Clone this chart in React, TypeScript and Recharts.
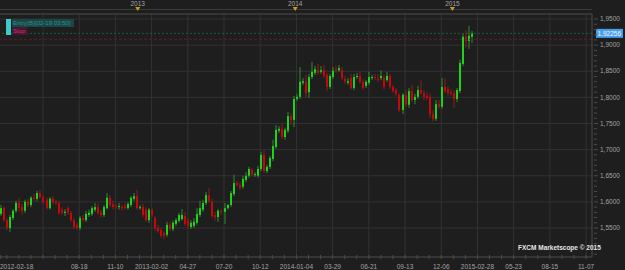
import React from "react";
import {
  ComposedChart,
  Bar,
  XAxis,
  YAxis,
  CartesianGrid,
  ReferenceLine,
} from "recharts";

// weekly candles, week 0 = 2012-02-18
const opens = [
  1.577, 1.588, 1.565, 1.55, 1.569, 1.583, 1.598, 1.59, 1.583, 1.6,
  1.594, 1.608, 1.606, 1.617, 1.609, 1.604, 1.588, 1.606, 1.6, 1.598,
  1.585, 1.579, 1.588, 1.579, 1.565, 1.556, 1.55, 1.569, 1.565, 1.575,
  1.577, 1.585, 1.59, 1.581, 1.575, 1.588, 1.608, 1.596, 1.592, 1.59,
  1.59, 1.592, 1.588, 1.594, 1.606, 1.611, 1.588, 1.59, 1.585, 1.565,
  1.585, 1.569, 1.55, 1.546, 1.541, 1.537, 1.556, 1.548, 1.558, 1.564,
  1.567, 1.573, 1.564, 1.552, 1.554, 1.56, 1.575, 1.585, 1.598, 1.613,
  1.6, 1.575, 1.571, 1.583, 1.581, 1.588, 1.594, 1.615, 1.636, 1.632,
  1.629, 1.642, 1.65, 1.661, 1.652, 1.65, 1.663, 1.69, 1.659, 1.667,
  1.682, 1.705, 1.736, 1.74, 1.724, 1.736, 1.764, 1.757, 1.797, 1.801,
  1.828, 1.83, 1.81, 1.839, 1.847, 1.852, 1.849, 1.852, 1.843, 1.82,
  1.839, 1.854, 1.852, 1.852, 1.835, 1.828, 1.837, 1.818, 1.839, 1.841,
  1.83, 1.822, 1.828, 1.837, 1.839, 1.835, 1.837, 1.837, 1.833, 1.841,
  1.82, 1.814, 1.805, 1.776, 1.805, 1.786, 1.812, 1.795, 1.801, 1.814,
  1.808, 1.803, 1.801, 1.768, 1.759, 1.787, 1.782, 1.82, 1.816, 1.81,
  1.808, 1.797, 1.812, 1.864, 1.916, 1.908, 1.916,
];
const highs = [
  1.594, 1.592, 1.569, 1.575, 1.586, 1.602, 1.608, 1.596, 1.604, 1.606,
  1.611, 1.615, 1.621, 1.623, 1.613, 1.608, 1.609, 1.611, 1.604, 1.602,
  1.59, 1.586, 1.592, 1.583, 1.569, 1.56, 1.573, 1.575, 1.583, 1.585,
  1.592, 1.598, 1.596, 1.585, 1.594, 1.617, 1.613, 1.602, 1.596, 1.598,
  1.594, 1.598, 1.6, 1.611, 1.617, 1.623, 1.594, 1.596, 1.59, 1.588,
  1.588, 1.573, 1.556, 1.55, 1.544, 1.562, 1.562, 1.564, 1.569, 1.579,
  1.586, 1.581, 1.569, 1.565, 1.569, 1.588, 1.602, 1.604, 1.619, 1.627,
  1.606, 1.581, 1.586, 1.586, 1.598, 1.596, 1.621, 1.652, 1.64, 1.638,
  1.65, 1.657, 1.667, 1.665, 1.657, 1.669, 1.696, 1.699, 1.671, 1.688,
  1.719, 1.747, 1.745, 1.749, 1.742, 1.772, 1.77, 1.803, 1.807, 1.858,
  1.837, 1.843, 1.845, 1.868, 1.86, 1.864, 1.86, 1.862, 1.847, 1.845,
  1.858, 1.86, 1.862, 1.858, 1.841, 1.837, 1.845, 1.845, 1.847, 1.849,
  1.835, 1.833, 1.849, 1.843, 1.845, 1.845, 1.852, 1.843, 1.849, 1.845,
  1.824, 1.818, 1.808, 1.808, 1.814, 1.818, 1.824, 1.807, 1.822, 1.833,
  1.814, 1.81, 1.807, 1.776, 1.795, 1.795, 1.837, 1.837, 1.822, 1.816,
  1.814, 1.818, 1.872, 1.923, 1.929, 1.937, 1.927,
];
const lows = [
  1.573, 1.562, 1.546, 1.542, 1.565, 1.579, 1.581, 1.575, 1.579, 1.59,
  1.59, 1.602, 1.602, 1.606, 1.596, 1.585, 1.585, 1.596, 1.594, 1.575,
  1.575, 1.573, 1.575, 1.562, 1.548, 1.546, 1.546, 1.562, 1.562, 1.571,
  1.573, 1.581, 1.575, 1.569, 1.571, 1.585, 1.59, 1.586, 1.586, 1.585,
  1.583, 1.585, 1.585, 1.59, 1.602, 1.585, 1.585, 1.571, 1.562, 1.56,
  1.571, 1.544, 1.541, 1.531, 1.529, 1.533, 1.544, 1.544, 1.554, 1.56,
  1.564, 1.554, 1.548, 1.548, 1.55, 1.556, 1.571, 1.581, 1.594, 1.598,
  1.569, 1.564, 1.562, 1.575, 1.558, 1.585, 1.59, 1.611, 1.63, 1.623,
  1.625, 1.638, 1.646, 1.648, 1.648, 1.646, 1.659, 1.655, 1.655, 1.663,
  1.678, 1.701, 1.732, 1.72, 1.719, 1.732, 1.747, 1.743, 1.793, 1.797,
  1.824, 1.799, 1.799, 1.835, 1.843, 1.843, 1.845, 1.837, 1.812, 1.816,
  1.835, 1.847, 1.849, 1.833, 1.826, 1.824, 1.814, 1.814, 1.835, 1.826,
  1.814, 1.818, 1.824, 1.833, 1.833, 1.83, 1.833, 1.816, 1.83, 1.816,
  1.808, 1.803, 1.772, 1.768, 1.782, 1.78, 1.791, 1.787, 1.797, 1.805,
  1.795, 1.795, 1.761, 1.753, 1.755, 1.778, 1.778, 1.808, 1.803, 1.803,
  1.78, 1.791, 1.808, 1.86, 1.895, 1.893, 1.904,
];
const closes = [
  1.588, 1.565, 1.55, 1.571, 1.583, 1.598, 1.588, 1.583, 1.6, 1.594,
  1.608, 1.606, 1.617, 1.609, 1.6, 1.588, 1.606, 1.6, 1.598, 1.579,
  1.579, 1.581, 1.579, 1.565, 1.552, 1.55, 1.569, 1.565, 1.577, 1.579,
  1.588, 1.59, 1.579, 1.575, 1.59, 1.608, 1.594, 1.59, 1.59, 1.592,
  1.588, 1.588, 1.596, 1.608, 1.611, 1.588, 1.59, 1.575, 1.565, 1.585,
  1.575, 1.55, 1.544, 1.535, 1.535, 1.556, 1.548, 1.56, 1.565, 1.575,
  1.575, 1.558, 1.554, 1.56, 1.562, 1.577, 1.588, 1.598, 1.613, 1.602,
  1.573, 1.571, 1.583, 1.581, 1.588, 1.594, 1.617, 1.636, 1.632, 1.627,
  1.644, 1.65, 1.663, 1.652, 1.653, 1.663, 1.69, 1.659, 1.667, 1.684,
  1.707, 1.738, 1.74, 1.724, 1.738, 1.764, 1.757, 1.797, 1.801, 1.83,
  1.831, 1.808, 1.839, 1.849, 1.854, 1.847, 1.852, 1.841, 1.82, 1.841,
  1.851, 1.851, 1.856, 1.837, 1.83, 1.831, 1.818, 1.839, 1.841, 1.83,
  1.818, 1.83, 1.839, 1.839, 1.837, 1.833, 1.841, 1.82, 1.841, 1.82,
  1.812, 1.807, 1.776, 1.805, 1.786, 1.812, 1.795, 1.801, 1.814, 1.808,
  1.801, 1.799, 1.768, 1.759, 1.787, 1.782, 1.82, 1.812, 1.808, 1.807,
  1.797, 1.814, 1.866, 1.916, 1.908, 1.918, 1.92256,
];

const lastPrice = 1.92256;
const stopPrice = 1.9112;

// price axis
const priceLabels = [1.55, 1.6, 1.65, 1.7, 1.75, 1.8, 1.85, 1.9, 1.95];
const priceMinor = [
  1.5, 1.51, 1.52, 1.53, 1.54, 1.55, 1.56, 1.57, 1.58, 1.59,
  1.6, 1.61, 1.62, 1.63, 1.64, 1.65, 1.66, 1.67, 1.68, 1.69,
  1.7, 1.71, 1.72, 1.73, 1.74, 1.75, 1.76, 1.77, 1.78, 1.79,
  1.8, 1.81, 1.82, 1.83, 1.84, 1.85, 1.86, 1.87, 1.88, 1.89,
  1.9, 1.91, 1.92, 1.93, 1.94, 1.95,
];

// date axis (week index -> label)
const dateTicks = [0, 14, 26, 38, 50, 62, 74, 86, 98, 110, 122, 134, 146, 158, 170, 182, 194];
const dateLabels = [
  "2012-02-18", "", "08-18", "11-10", "2013-02-02", "04-27", "07-20", "10-12",
  "2014-01-04", "03-29", "06-21", "09-13", "12-06", "2015-02-28", "05-23", "08-15", "11-07",
];
const dateMinor = [
  2, 6, 10, 14, 18, 22, 26, 30, 34, 38, 42, 46, 50, 54, 58, 62, 66, 70, 74, 78,
  82, 86, 90, 94, 98, 102, 106, 110, 114, 118, 122, 126, 130, 134, 138, 142,
  146, 150, 154, 158, 162, 166, 170, 174, 178, 182, 186, 190, 194,
];
const yearTicks = [45.4, 97.6, 149.7];
const yearLabels = ["2013", "2014", "2015"];

const data = opens.map((o, i) => ({
  i,
  open: o,
  high: highs[i],
  low: lows[i],
  close: closes[i],
  range: [lows[i], highs[i]],
}));

const BG = "#1e1e1e";
const GRID = "#323232";
const AXIS = "#4c4c4c";
const TEXT = "#a3a3a3";
const FONT = "'Liberation Sans', Arial, sans-serif";

const Candle = (props: any) => {
  const { x, y, width, height, payload } = props;
  if (payload == null || x == null) return null;
  const top = Math.min(y, y + height);
  const h = Math.abs(height);
  const span = payload.high - payload.low || 1e-6;
  const k = h / span;
  const up = payload.close >= payload.open;
  const bTop = top + (payload.high - Math.max(payload.open, payload.close)) * k;
  const bBot = top + (payload.high - Math.min(payload.open, payload.close)) * k;
  const cx = Math.round(x + width / 2);
  return (
    <g>
      <rect x={cx - 0.5} y={top} width={1} height={Math.max(h, 1)} fill={up ? "#2f8a2f" : "#8e1818"} />
      <rect
        x={cx - 1}
        y={bTop}
        width={2}
        height={Math.max(bBot - bTop, 1)}
        fill={up ? "#1ed21e" : "#c80808"}
      />
    </g>
  );
};

const PriceTick = (props: any) => {
  const { x, y, payload } = props;
  const v = payload.value;
  const isLabel = priceLabels.some((p) => Math.abs(p - v) < 1e-6);
  return (
    <g>
      <line x1={x} x2={x + (isLabel ? 4 : 3)} y1={y} y2={y} stroke={AXIS} />
      {isLabel && (
        <text x={x + 6} y={y + 2.2} fontSize={6.5} fill={TEXT} fontFamily={FONT}>
          {v.toFixed(4).replace(".", ",")}
        </text>
      )}
    </g>
  );
};

const DateTick = (props: any) => {
  const { x, y, payload } = props;
  const v = payload.value;
  const li = dateTicks.indexOf(v);
  return (
    <g>
      <line x1={x} x2={x} y1={y - 4} y2={y} stroke={AXIS} />
      {li >= 0 && dateLabels[li] !== "" && (
        <text
          x={li === 0 ? 0 : x}
          y={y + 10}
          fontSize={6.5}
          fill={TEXT}
          fontFamily={FONT}
          textAnchor={li === 0 ? "start" : "middle"}
        >
          {dateLabels[li]}
        </text>
      )}
    </g>
  );
};

const YearTick = (props: any) => {
  const { x, y, payload } = props;
  const li = yearTicks.indexOf(payload.value);
  return (
    <g>
      <text x={x} y={6} fontSize={6.5} fill={TEXT} fontFamily={FONT} textAnchor="middle">
        {yearLabels[li]}
      </text>
      <path d={`M${x - 2.5},${y - 5} L${x + 2.5},${y - 5} L${x},${y - 1} Z`} fill="#d19a1c" />
    </g>
  );
};

const PriceLabel = (props: any) => {
  const { viewBox } = props;
  const x = viewBox.x + viewBox.width + 4;
  const y = viewBox.y;
  return (
    <g>
      <rect x={x} y={y - 4.5} width={27} height={9} fill="#4a9fec" />
      <text x={x + 1.5} y={y + 2.3} fontSize={6.5} fill="#eef6ff" fontFamily={FONT}>
        {lastPrice.toFixed(5)}
      </text>
    </g>
  );
};

export default function App() {
  return (
    <div
      style={{
        position: "absolute",
        left: 0,
        top: 0,
        width: 625,
        height: 270,
        background: BG,
        fontFamily: FONT,
      }}
    >
      <div style={{ position: "absolute", left: 0, top: 9, width: 592, height: 1, background: "#3c3c3c" }} />
      <ComposedChart
        width={625}
        height={270}
        data={data}
        margin={{ top: 0, right: 0, bottom: 0, left: 0 }}
        barSize={2}
      >
        <CartesianGrid
          stroke={GRID}
          horizontalValues={priceLabels}
          verticalValues={dateTicks.slice(1)}
        />
        <XAxis
          dataKey="i"
          type="number"
          domain={[-0.25, 195.97]}
          allowDataOverflow
          ticks={dateMinor.concat([0])}
          interval={0}
          tick={<DateTick />}
          tickLine={false}
          tickSize={0}
          height={13}
          stroke={AXIS}
        />
        <XAxis
          xAxisId="top"
          orientation="top"
          dataKey="i"
          type="number"
          domain={[-0.25, 195.97]}
          allowDataOverflow
          ticks={yearTicks}
          interval={0}
          tick={<YearTick />}
          tickLine={false}
          tickSize={0}
          height={14}
          stroke={AXIS}
        />
        <YAxis
          orientation="right"
          type="number"
          domain={[1.4945, 1.9596]}
          allowDataOverflow
          ticks={priceMinor}
          interval={0}
          tick={<PriceTick />}
          tickLine={false}
          tickSize={0}
          width={33}
          stroke={AXIS}
        />
        <ReferenceLine y={stopPrice} stroke="#5e1e2c" strokeWidth={1} strokeDasharray="3 2" />
        <ReferenceLine
          y={lastPrice}
          stroke="#24593a"
          strokeWidth={1}
          strokeDasharray="2 2"
          label={<PriceLabel />}
        />
        <Bar dataKey="range" shape={<Candle />} isAnimationActive={false} />
      </ComposedChart>

      {/* order legend */}
      <div style={{ position: "absolute", left: 6, top: 19, width: 5, height: 16, background: "#3cc9c9" }} />
      <div
        style={{
          position: "absolute",
          left: 12,
          top: 19,
          width: 62,
          height: 8,
          background: "#1c4646",
          color: "#2a8f8f",
          fontSize: 6,
          lineHeight: "8px",
          paddingLeft: 1,
          whiteSpace: "nowrap",
          boxSizing: "border-box",
        }}
      >
        Entry(B)[02-19 03:50]
      </div>
      <div
        style={{
          position: "absolute",
          left: 12,
          top: 27,
          width: 15,
          height: 8,
          background: "#4a1530",
          color: "#c23a7a",
          fontSize: 6,
          lineHeight: "8px",
          paddingLeft: 1,
          boxSizing: "border-box",
        }}
      >
        Stop
      </div>
      <div
        style={{
          position: "absolute",
          left: 518,
          top: 244,
          fontSize: 6.5,
          fontWeight: "bold",
          color: "#e6e6e6",
          whiteSpace: "nowrap",
        }}
      >
        FXCM Marketscope © 2015
      </div>
    </div>
  );
}
